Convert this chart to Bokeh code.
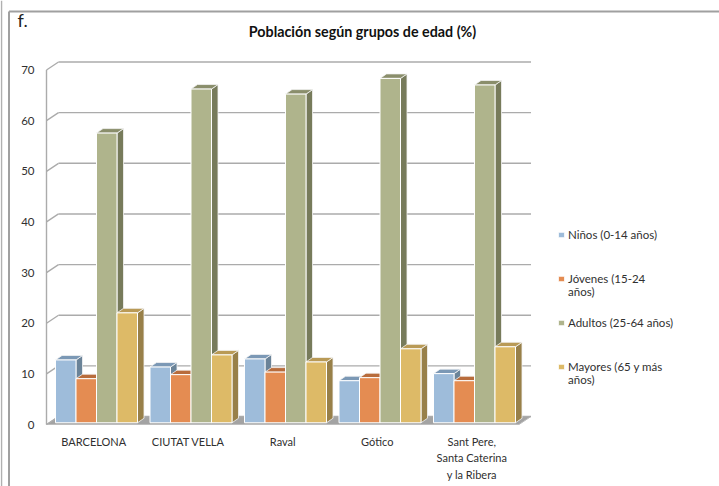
from bokeh.plotting import figure
from bokeh.models import Range1d, Legend, LegendItem
from bokeh.core.properties import value
from bokeh.embed import file_html
from bokeh.resources import INLINE

# ---------------- data ----------------
districts = ["BARCELONA", "CIUTAT VELLA", "Raval", "Gótico",
             "Sant Pere,\nSanta Caterina\ny la Ribera"]
age_groups = ["Niños (0-14 años)", "Jóvenes (15-24\naños)",
              "Adultos (25-64 años)", "Mayores (65 y más\naños)"]
ninos   = [12.4, 11.0, 12.6, 8.3, 9.7]
jovenes = [8.7, 9.5, 10.0, 8.9, 8.3]
adultos = [57.2, 65.9, 64.9, 68.0, 66.7]
mayores = [21.7, 13.4, 12.0, 14.6, 15.0]
y_ticks = [0, 10, 20, 30, 40, 50, 60, 70]
title_text = "Población según grupos de edad (%)"
panel_tag = "f."

series = [ninos, jovenes, adultos, mayores]
front_c = ["#9ebcda", "#e48c52", "#afb48c", "#ddba67"]
top_c   = ["#7b98b5", "#b86c3c", "#8a8e6b", "#b99a56"]
side_c  = ["#6a8398", "#9a5a32", "#777b5b", "#988049"]
FONT = "Lato"
TXT = "#303030"

# ---------------- geometry (pixel layout -> data units) ----------------
W, H = 719, 486
X0_PX, Y0_PX = 46, 424     # front-left corner of the chart floor
PX = 94.5                  # pixels per category
PY = 5.064                 # pixels per percent
n = len(districts)
x_lo, x_hi = -0.5, n - 0.5

def dx(px):
    return px / PX

def dy(px):
    return px / PY

def xpix(px):
    return x_lo + (px - X0_PX) / PX

def ypix(py):
    return (Y0_PX - py) / PY

wall_dx, wall_dy = dx(12), dy(8)
bar_sx, bar_sy = dx(2.75), dy(1.75)
bar_dx, bar_dy = dx(6.5), dy(4.5)
bw = dx(20.5)

p = figure(width=W, height=H, output_backend="svg", toolbar_location=None,
           x_range=Range1d(xpix(0), xpix(W)), y_range=Range1d(ypix(H), ypix(0)),
           x_axis_type=None, y_axis_type=None,
           min_border=0, min_border_left=0, min_border_right=0,
           min_border_top=0, min_border_bottom=0)
p.outline_line_color = None
p.grid.visible = False
p.background_fill_color = "white"
p.border_fill_color = "white"

# ---------------- outer frame lines ----------------
p.segment([xpix(1)], [ypix(0)], [xpix(1)], [ypix(H)], line_color="#b0b0b0", line_width=1.5)
p.segment([xpix(8.5), xpix(8.5)], [ypix(11), ypix(11)], [xpix(8.5), xpix(W)], [ypix(H), ypix(11)],
          line_color="#a0a0a0", line_width=2)

# ---------------- walls / floor ----------------
k = len(y_ticks)
gy = [t + wall_dy for t in y_ticks]
p.patch([x_lo, x_hi, x_hi + wall_dx, x_lo + wall_dx], [0, 0, wall_dy, wall_dy],
        fill_color="#a3a3a3", line_color="#bdbdbd", line_width=1)
p.segment([x_lo + wall_dx] * k, gy, [x_hi + wall_dx] * k, gy,
          line_color="#ababab", line_width=1.4)
p.segment([x_lo] * k, y_ticks, [x_lo + wall_dx] * k, gy,
          line_color="#ababab", line_width=1.4)
p.segment([x_lo], [0], [x_lo], [max(y_ticks)], line_color="#ababab", line_width=1.4)

# ---------------- bars (3D) ----------------
side_xs, side_ys, side_col = [], [], []
top_xs, top_ys, top_col = [], [], []
fronts = []
for si, vals in enumerate(series):
    centers = [j + (si - 1.5) * bw + bar_sx for j in range(n)]
    for c, v in zip(centers, vals):
        l, r = c - bw / 2, c + bw / 2
        t = bar_sy + v
        side_xs.append([r, r + bar_dx, r + bar_dx, r])
        side_ys.append([bar_sy, bar_sy + bar_dy, t + bar_dy, t])
        side_col.append(side_c[si])
        top_xs.append([l, r, r + bar_dx, l + bar_dx])
        top_ys.append([t, t, t + bar_dy, t + bar_dy])
        top_col.append(top_c[si])
    fronts.append((centers, [bar_sy + v for v in vals]))

p.patches(side_xs, side_ys, fill_color=side_col, line_color="#f4f4f4", line_width=0.8)
p.patches(top_xs, top_ys, fill_color=top_col, line_color="#f4f4f4", line_width=0.8)
front_rs = []
for si, (centers, tops) in enumerate(fronts):
    front_rs.append(p.vbar(x=centers, width=bw, bottom=bar_sy, top=tops,
                           fill_color=front_c[si], line_color="white", line_width=1))

# ---------------- tick labels ----------------
p.text(x=[x_lo - dx(12)] * k, y=y_ticks, text=[str(t) for t in y_ticks],
       text_align="right", text_baseline="middle", text_font=value(FONT),
       text_font_size="11.5px", text_color=TXT)
p.text(x=list(range(n)), y=[-dy(10)] * n, text=districts,
       text_align="center", text_baseline="top", text_font=value(FONT),
       text_font_size="11px", text_color=TXT, text_line_height=1.28)

# ---------------- title / tag ----------------
p.text(x=[xpix(362)], y=[ypix(22.4)], text=[title_text], text_align="center",
       text_baseline="top", text_font=value(FONT), text_font_style="bold",
       text_font_size="14.3px", text_color="#111111")
p.text(x=[xpix(17)], y=[ypix(8)], text=[panel_tag], text_align="left",
       text_baseline="top", text_font=value(FONT), text_font_size="18px",
       text_color="#222222")

# ---------------- legend ----------------
labels2 = [(" \n" + g) if "\n" in g else g for g in age_groups]
legend = Legend(items=[LegendItem(label=g, renderers=[r]) for g, r in zip(labels2, front_rs)],
                location=(557, 100), glyph_width=8, glyph_height=7, label_standoff=3,
                spacing=17, padding=0, margin=0, border_line_color=None,
                background_fill_alpha=0, label_text_font=FONT,
                label_text_font_size="11.5px", label_text_color=TXT,
                label_height=15, label_text_line_height=1.3)
p.add_layout(legend)

open("out.html", "w").write(file_html(p, INLINE, title="Población"))
